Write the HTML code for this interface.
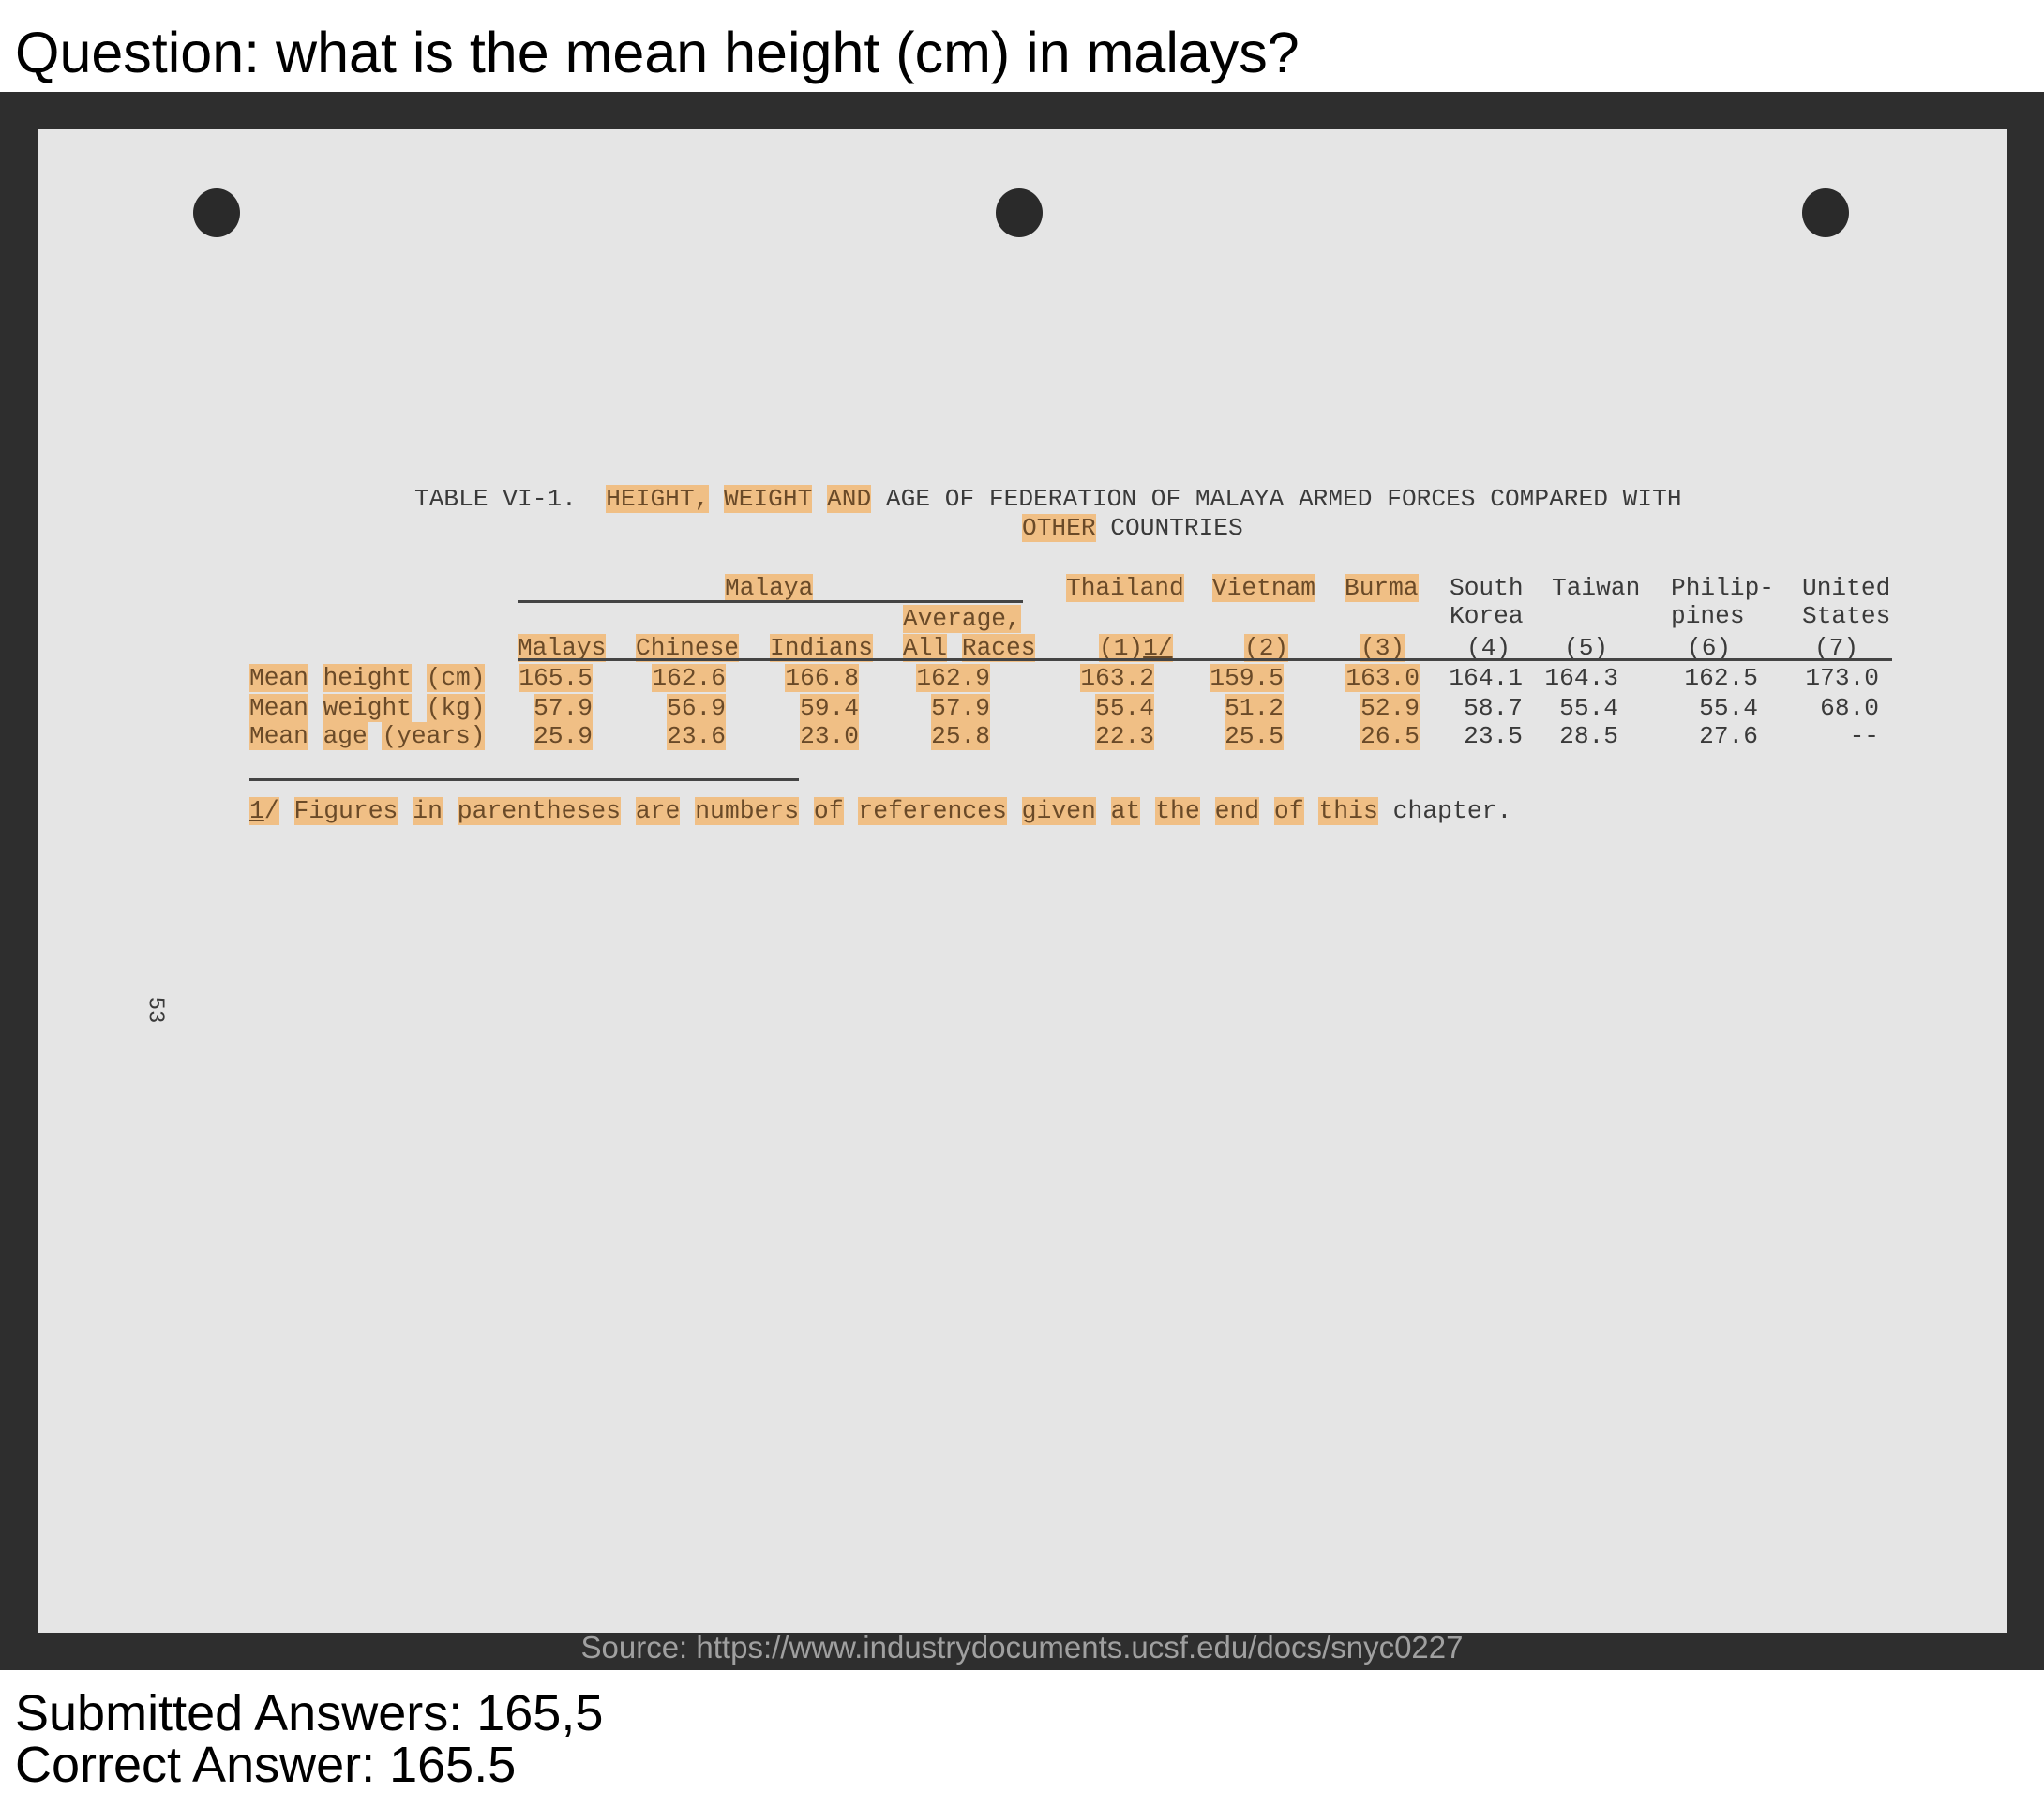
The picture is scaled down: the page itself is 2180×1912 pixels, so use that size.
<!DOCTYPE html>
<html><head><meta charset="utf-8">
<style>
html,body{margin:0;padding:0;background:#fff;}
body{width:2180px;height:1905px;position:relative;overflow:hidden;font-family:"Liberation Sans",Arial,sans-serif;}
.q{position:absolute;left:16px;font-size:61px;color:#000;line-height:1;white-space:nowrap;}
#band{position:absolute;left:0;top:98px;width:2180px;height:1683px;background:#2e2e2e;}
#paper{position:absolute;left:40px;top:138px;width:2101px;height:1603px;background:#e5e5e5;}
.hole{position:absolute;width:50px;height:52px;border-radius:50%;background:#2a2a2a;}
.t{position:absolute;font-family:"Liberation Mono","DejaVu Sans Mono",monospace;font-size:26.2px;color:#3a3a3a;white-space:pre;line-height:30px;}
.h{background:#f0bf85;color:#6a4a28;}
.rule{position:absolute;background:#444;height:3px;}
</style></head><body>
<div class="q" style="top:26px">Question: what is the mean height (cm) in malays?</div>
<div id="band"></div>
<div id="paper"></div>
<div class="hole" style="left:206px;top:201px"></div>
<div class="hole" style="left:1062px;top:201px"></div>
<div class="hole" style="left:1922px;top:201px"></div>

<div class="t" style="left:442px;top:517px">TABLE VI-1.  <span class="h">HEIGHT,</span> <span class="h">WEIGHT</span> <span class="h">AND</span> AGE OF FEDERATION OF MALAYA ARMED FORCES COMPARED WITH</div>
<div class="t" style="left:1090px;top:548px"><span class="h">OTHER</span> COUNTRIES</div>

<div class="t" style="left:773px;top:612px"><span class="h">Malaya</span></div>
<div class="rule" style="left:552px;top:640px;width:539px"></div>
<div class="t" style="left:1137px;top:612px"><span class="h">Thailand</span></div>
<div class="t" style="left:1293px;top:612px"><span class="h">Vietnam</span></div>
<div class="t" style="left:1434px;top:612px"><span class="h">Burma</span></div>
<div class="t" style="left:1546px;top:612px">South
Korea</div>
<div class="t" style="left:1655px;top:612px">Taiwan</div>
<div class="t" style="left:1782px;top:612px">Philip-
pines</div>
<div class="t" style="left:1922px;top:612px">United
States</div>
<div class="t" style="left:963px;top:645px"><span class="h">Average,</span></div>
<div class="t" style="left:552px;top:676px"><span class="h">Malays</span></div>
<div class="t" style="left:678px;top:676px"><span class="h">Chinese</span></div>
<div class="t" style="left:821px;top:676px"><span class="h">Indians</span></div>
<div class="t" style="left:963px;top:676px"><span class="h">All</span> <span class="h">Races</span></div>
<div class="t" style="left:1172px;top:676px"><span class="h">(1)<u>1/</u></span></div>
<div class="t" style="left:1327px;top:676px"><span class="h">(2)</span></div>
<div class="t" style="left:1451px;top:676px"><span class="h">(3)</span></div>
<div class="t" style="left:1564px;top:676px">(4)</div>
<div class="t" style="left:1668px;top:676px">(5)</div>
<div class="t" style="left:1799px;top:676px">(6)</div>
<div class="t" style="left:1935px;top:676px">(7)</div>
<div class="rule" style="left:552px;top:702px;width:1466px"></div>

<div id="rows"></div>

<div class="rule" style="left:266px;top:830px;width:586px"></div>
<div class="t" style="left:266px;top:850px;font-size:26.4px"><span class="h"><u>1</u>/</span> <span class="h">Figures</span> <span class="h">in</span> <span class="h">parentheses</span> <span class="h">are</span> <span class="h">numbers</span> <span class="h">of</span> <span class="h">references</span> <span class="h">given</span> <span class="h">at</span> <span class="h">the</span> <span class="h">end</span> <span class="h">of</span> <span class="h">this</span> chapter.</div>
<div class="t" style="left:150px;top:1062px;transform:rotate(90deg);font-size:24px">53</div>

<div style="position:absolute;left:0;width:2180px;text-align:center;top:1738px;font-size:33px;color:#a0a0a0">Source: https://www.industrydocuments.ucsf.edu/docs/snyc0227</div>
<div class="q" style="top:1800px;font-size:54px">Submitted Answers: 165,5</div>
<div class="q" style="top:1855px;font-size:54px">Correct Answer: 165.5</div>

<script>
const rowLabels = [["Mean","height","(cm)"],["Mean","weight","(kg)"],["Mean","age","(years)"]];
const columns = ["Malays","Chinese","Indians","Average","Thailand","Vietnam","Burma","South Korea","Taiwan","Philippines","United States"];
const heightValues = ["165.5","162.6","166.8","162.9","163.2","159.5","163.0","164.1","164.3","162.5","173.0"];
const weightValues = ["57.9","56.9","59.4","57.9","55.4","51.2","52.9","58.7","55.4","55.4","68.0"];
const ageValues = ["25.9","23.6","23.0","25.8","22.3","25.5","26.5","23.5","28.5","27.6","--"];
const highlightedCols = 7;
const colRight = [632,774,916,1056,1231,1369,1514,1624,1726,1875,2004];
const rowTop = [708,740,770];
const series = [heightValues, weightValues, ageValues];
const host = document.getElementById('rows');
series.forEach(function(vals, r){
  const lab = document.createElement('div');
  lab.className = 't';
  lab.style.left = '266px';
  lab.style.top = rowTop[r] + 'px';
  lab.innerHTML = rowLabels[r].map(function(w){return '<span class="h">'+w+'</span>';}).join(' ');
  
  
  host.appendChild(lab);
  vals.forEach(function(v, c){
    const el = document.createElement('div');
    el.className = 't';
    el.style.right = (2180 - colRight[c]) + 'px';
    el.style.top = rowTop[r] + 'px';
    el.innerHTML = c < highlightedCols ? '<span class="h">'+v+'</span>' : v;
    
    
    host.appendChild(el);
  });
});
</script>
</body></html>
